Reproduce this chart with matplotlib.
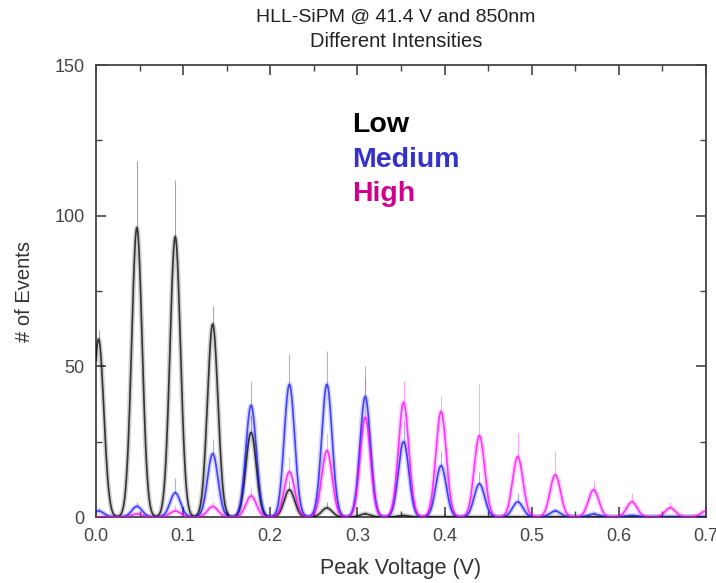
import numpy as np
import matplotlib
matplotlib.use("Agg")
import matplotlib.pyplot as plt
from matplotlib.ticker import MultipleLocator, FormatStrFormatter

plt.rcParams['font.family'] = ['Liberation Sans', 'DejaVu Sans']

# photoelectron peak positions (V)
peak_pos = [0.003, 0.047, 0.091, 0.134, 0.178, 0.222, 0.265, 0.309, 0.353,
            0.396, 0.440, 0.484, 0.527, 0.571, 0.615, 0.659, 0.700]

# core peak heights (# of events)
low_h = [59, 96, 93, 64, 28, 9, 3, 1, 0.5, 0, 0, 0, 0, 0, 0, 0, 0]
med_h = [2, 3.5, 8, 21, 37, 44, 44, 40, 25, 17, 11, 5, 2, 1, 0.5, 0, 0]
high_h = [0, 1, 2, 3.5, 7, 15, 22, 33, 38, 35, 27, 20, 14, 9, 5, 3, 2]

# tallest noise spikes on each peak
low_sp = [62, 118, 112, 70, 34, 12, 5, 2, 1, 0, 0, 0, 0, 0, 0, 0, 0]
med_sp = [3, 5, 13, 26, 45, 54, 55, 50, 32, 22, 15, 8, 3, 2, 1, 0, 0]
high_sp = [0, 2, 4, 5, 10, 20, 28, 46, 45, 40, 44, 28, 22, 12, 8, 5, 4]

series = [
    ("Low", low_h, low_sp, "#000000", "#000000"),
    ("Medium", med_h, med_sp, "#1010ff", "#3333cc"),
    ("High", high_h, high_sp, "#ff00ff", "#d0008c"),
]

peak_sigma = 0.006
x = np.linspace(0.0, 0.7, 1400)

fig = plt.figure(figsize=(7.16, 5.83), dpi=100)
ax = fig.add_axes([0.134, 0.1132, 0.852, 0.7753])

for name, h, sp, col, tcol in series:
    y = np.zeros_like(x)
    for p, a in zip(peak_pos, h):
        y += a * np.exp(-0.5 * ((x - p) / peak_sigma) ** 2)
    ax.plot(x, y, color=col, lw=3.5, alpha=0.18, zorder=2)
    ax.plot(x, y, color=col, lw=1.2, alpha=0.75, zorder=3)
    ax.vlines(peak_pos, h, sp, color=col, lw=0.8, alpha=0.35, zorder=3)

ax.set_xlim(0.0, 0.7)
ax.set_ylim(0, 150)
ax.xaxis.set_major_locator(MultipleLocator(0.1))
ax.xaxis.set_minor_locator(MultipleLocator(0.05))
ax.yaxis.set_major_locator(MultipleLocator(50))
ax.yaxis.set_minor_locator(MultipleLocator(25))
ax.xaxis.set_major_formatter(FormatStrFormatter('%.1f'))
ax.tick_params(which='both', direction='in', top=True, right=True,
               colors='#444444', labelsize=13, pad=8)
ax.tick_params(which='major', length=7, width=1.2)
ax.tick_params(which='minor', length=4, width=1.0)
for s in ax.spines.values():
    s.set_color('#444444')
    s.set_linewidth(1.3)

ax.set_xlabel("Peak Voltage (V)", fontsize=15.5, color='#333333', labelpad=9)
ax.set_ylabel("# of Events", fontsize=14.5, color='#333333', labelpad=15)
fig.text(0.553, 0.971, "HLL-SiPM @ 41.4 V and 850nm", ha='center', va='center',
         fontsize=14, color='#222222')
fig.text(0.553, 0.928, "Different Intensities", ha='center', va='center',
         fontsize=14.5, color='#222222')

for i, (name, h, sp, col, tcol) in enumerate(series):
    ax.text(0.294, 130 - 11.45 * i, name, color=tcol, fontsize=20.5,
            fontweight='bold', va='center', ha='left')

fig.savefig("out.png", dpi=100)
